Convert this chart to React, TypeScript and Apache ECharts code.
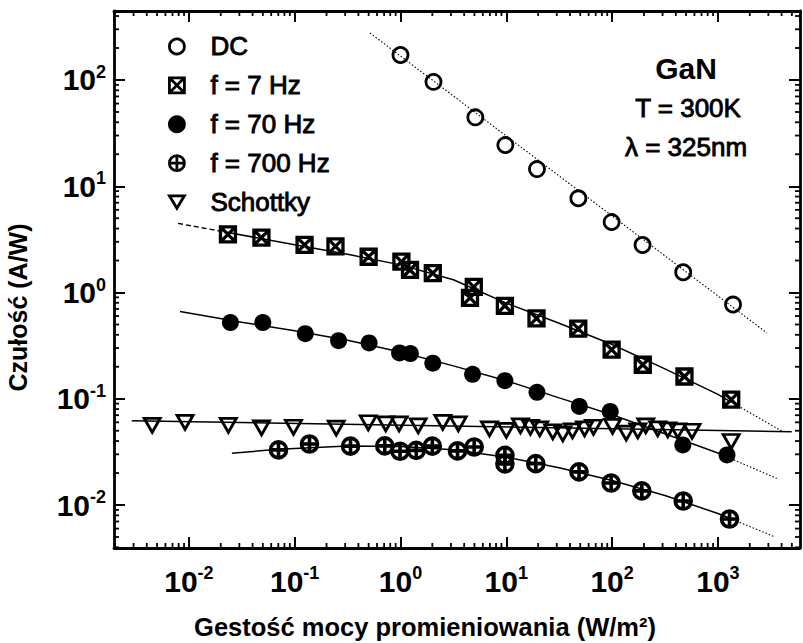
import React, { useEffect, useRef } from 'react';
import * as echarts from 'echarts';

const FONT = '"Liberation Sans", Arial, Helvetica, sans-serif';

// axis ranges (log scales)
const X_MIN = 0.00196;
const X_MAX = 5970;
const Y_MIN = 0.00394;
const Y_MAX = 446;

// minor-tick structure
const MINOR_MULT = [2, 3, 4, 5, 6, 7, 8, 9];
const DECADES = [-3, -2, -1, 0, 1, 2, 3];

// series names
const NAMES = ['DC', 'f = 7 Hz', 'f = 70 Hz', 'f = 700 Hz', 'Schottky'];

// measured points
const dcX = [1.0, 2.05, 5.1, 9.8, 19.5, 48, 99, 194, 470, 1390];
const dcY = [172, 96, 44.5, 24.4, 14.5, 7.7, 4.6, 2.8, 1.55, 0.77];

const hz7X = [0.0234, 0.0485, 0.124, 0.243, 0.5, 1.02, 1.23, 2.02, 4.93, 4.54, 9.7, 19.3, 47.9, 99, 195, 483, 1336];
const hz7Y = [3.53, 3.28, 2.81, 2.72, 2.17, 1.95, 1.63, 1.52, 1.13, 0.89, 0.75, 0.57, 0.457, 0.29, 0.209, 0.162, 0.098];

const hz70X = [0.0247, 0.05, 0.126, 0.26, 0.505, 0.98, 1.24, 2.02, 4.8, 9.7, 19.5, 49, 96, 466, 1219];
const hz70Y = [0.521, 0.521, 0.41, 0.352, 0.335, 0.27, 0.266, 0.216, 0.17, 0.148, 0.115, 0.0846, 0.076, 0.0368, 0.0296];

const hz700X = [0.0703, 0.138, 0.337, 0.71, 0.99, 1.41, 2.0, 3.46, 4.97, 9.7, 9.7, 19, 48.7, 98, 191, 470, 1288];
const hz700Y = [0.033, 0.0375, 0.0358, 0.036, 0.0321, 0.0327, 0.0358, 0.0323, 0.0352, 0.0293, 0.0244, 0.0245, 0.0205, 0.0161, 0.0136, 0.0109, 0.00738];

const schX = [0.0045, 0.0092, 0.0236, 0.0486, 0.0974, 0.247, 0.496, 0.726, 0.97, 1.47, 2.51, 3.52, 6.94, 10.0, 13.6, 16.9, 20.7, 27.5, 34.2, 42.2, 54.9, 66.7, 101, 136, 175, 208, 270, 336, 418, 569, 1336];
const schY = [0.0562, 0.06, 0.0562, 0.0533, 0.0539, 0.0529, 0.0594, 0.0581, 0.0581, 0.0556, 0.06, 0.0581, 0.0521, 0.0504, 0.0556, 0.0539, 0.0521, 0.0489, 0.0468, 0.0499, 0.0521, 0.0539, 0.055, 0.0475, 0.0499, 0.0556, 0.0521, 0.051, 0.0499, 0.0494, 0.0396];

// fitted curves
const dcFitX = [0.515, 2911];
const dcFitY = [277, 0.416];

const hz7FitStartX = [0.0079, 0.0234];
const hz7FitStartY = [4.47, 3.67];
const hz7FitX = [0.0234, 0.1, 0.316, 1, 3.16, 10, 31.6, 100, 316, 1000, 1350];
const hz7FitY = [3.67, 2.82, 2.29, 1.82, 1.32, 0.794, 0.513, 0.324, 0.191, 0.11, 0.0925];
const hz7FitEndX = [1350, 4120];
const hz7FitEndY = [0.0925, 0.049];

const hz70FitX = [0.00824, 0.0316, 0.1, 0.316, 1, 3.16, 10, 31.6, 100, 316, 1000, 1230];
const hz70FitY = [0.661, 0.525, 0.437, 0.355, 0.275, 0.204, 0.148, 0.102, 0.0708, 0.0468, 0.0309, 0.0282];
const hz70FitEndX = [1230, 3600];
const hz70FitEndY = [0.0282, 0.0178];

const hz700FitX = [0.0255, 0.0708, 0.316, 1, 3.16, 10, 31.6, 100, 316, 1000, 1300];
const hz700FitY = [0.0307, 0.0335, 0.0359, 0.0355, 0.0331, 0.0282, 0.0224, 0.017, 0.0123, 0.00832, 0.0075];
const hz700FitEndX = [1300, 3460];
const hz700FitEndY = [0.0075, 0.00501];

const schFitX = [0.00288, 4990];
const schFitY = [0.0621, 0.049];

const pairs = (xs: number[], ys: number[]) => xs.map((x, i) => [x, ys[i]]);

const SYM_SQX = 'path://M0,0L10,0L10,10L0,10Z M0,0L10,10 M10,0L0,10';
const SYM_CPLUS = 'path://M0,5A5,5,0,1,1,10,5A5,5,0,1,1,0,5Z M5,0L5,10 M0,5L10,5';
const SYM_TRI = 'path://M0,0L12,0L6,10Z';

const fmtPow = (v: number) => {
  const l = Math.log10(v);
  const e = Math.round(l);
  if (Math.abs(l - e) > 1e-6) return '';
  return '{b|10}{e|' + e + '}';
};

const rich = {
  b: { fontSize: 30, fontWeight: 'bold', fontFamily: FONT, color: '#000', lineHeight: 34 },
  e: { fontSize: 18, fontWeight: 'bold', fontFamily: FONT, color: '#000', lineHeight: 18, verticalAlign: 'top' },
};

const axisCommon = {
  type: 'log',
  logBase: 10,
  splitNumber: 6,
  axisLine: { show: true, lineStyle: { color: '#000', width: 2.8 } },
  axisTick: { show: true, inside: true, length: 11, lineStyle: { color: '#000', width: 2 } },
  splitLine: { show: false },
  minorTick: { show: false },
};

const fitLine = (xs: number[], ys: number[], type: any, width: number) => ({
  type: 'line',
  data: pairs(xs, ys),
  showSymbol: false,
  symbol: 'none',
  silent: true,
  z: 1,
  lineStyle: { color: '#000', width, type },
});

export default function App() {
  const ref = useRef<HTMLDivElement>(null);
  useEffect(() => {
    if (!ref.current) return;
    const chart = echarts.init(ref.current, null, { renderer: 'svg' });
    const option: any = {
      animation: false,
      backgroundColor: '#fff',
      grid: { left: 114, top: 11, width: 686, height: 537, containLabel: false, outerBoundsMode: 'none' },
      xAxis: [
        {
          ...axisCommon,
          min: X_MIN,
          max: X_MAX,
          position: 'bottom',
          axisLabel: { show: true, formatter: fmtPow, rich, margin: 16, showMinLabel: false, showMaxLabel: false },
          name: 'Gestość mocy promieniowania (W/m²)',
          nameLocation: 'middle',
          nameGap: 66,
          nameTextStyle: { fontSize: 25.5, lineHeight: 26, fontWeight: 'bold', fontFamily: FONT, color: '#000', padding: [0, 64, 0, 0] },
        },
        {
          ...axisCommon,
          min: X_MIN,
          max: X_MAX,
          position: 'top',
          axisLabel: { show: false },
        },
      ],
      yAxis: [
        {
          ...axisCommon,
          min: Y_MIN,
          max: Y_MAX,
          position: 'left',
          axisLabel: { show: true, formatter: fmtPow, rich, margin: 8, showMinLabel: false, showMaxLabel: false },
          name: 'Czułość (A/W)',
          nameLocation: 'middle',
          nameRotate: 90,
          nameGap: 84,
          nameTextStyle: { fontSize: 25, fontWeight: 'bold', fontFamily: FONT, color: '#000', padding: [0, 56, 0, 0] },
        },
        {
          ...axisCommon,
          min: Y_MIN,
          max: Y_MAX,
          position: 'right',
          axisLabel: { show: false },
        },
      ],
      legend: {
        orient: 'vertical',
        left: 168,
        top: 33,
        padding: 0,
        itemGap: 12,
        itemWidth: 15,
        itemHeight: 15,
        selectedMode: false,
        data: NAMES,
        itemStyle: { borderWidth: 2.8, borderColor: '#000' },
        textStyle: {
          fontSize: 26,
          lineHeight: 24,
          fontFamily: FONT,
          color: '#000',
          padding: [0, 0, 0, 21],
          textBorderColor: '#000',
          textBorderWidth: 0.9,
        },
      },
      graphic: [
        {
          type: 'text',
          x: 686,
          y: 68,
          style: { text: 'GaN', fontSize: 30, fontWeight: 'bold', fontFamily: FONT, fill: '#000', align: 'center', verticalAlign: 'middle' },
        },
        {
          type: 'text',
          x: 688,
          y: 108,
          style: { text: 'T = 300K', fontSize: 26, fontFamily: FONT, fill: '#000', stroke: '#000', lineWidth: 0.9, align: 'center', verticalAlign: 'middle' },
        },
        {
          type: 'text',
          x: 686,
          y: 147,
          style: { text: 'λ = 325nm', fontSize: 26, fontFamily: FONT, fill: '#000', stroke: '#000', lineWidth: 0.9, align: 'center', verticalAlign: 'middle' },
        },
      ],
      series: [
        fitLine(dcFitX, dcFitY, [1.5, 2], 1.1),
        fitLine(hz7FitStartX, hz7FitStartY, [5, 3], 1.4),
        fitLine(hz7FitX, hz7FitY, 'solid', 1.5),
        fitLine(hz7FitEndX, hz7FitEndY, [1.5, 2], 1.1),
        fitLine(hz70FitX, hz70FitY, 'solid', 1.5),
        fitLine(hz70FitEndX, hz70FitEndY, [1.5, 2], 1.1),
        fitLine(hz700FitX, hz700FitY, 'solid', 1.5),
        fitLine(hz700FitEndX, hz700FitEndY, [1.5, 2], 1.1),
        fitLine(schFitX, schFitY, 'solid', 1.4),
        {
          name: 'DC',
          type: 'scatter',
          data: pairs(dcX, dcY),
          symbol: 'circle',
          symbolSize: 15,
          z: 3,
          itemStyle: { color: 'rgba(255,255,255,0)', borderColor: '#000', borderWidth: 2.8, opacity: 1 },
        },
        {
          name: 'f = 7 Hz',
          type: 'scatter',
          data: pairs(hz7X, hz7Y),
          symbol: SYM_SQX,
          symbolSize: 15,
          z: 3,
          itemStyle: { color: 'rgba(255,255,255,0)', borderColor: '#000', borderWidth: 3.3, opacity: 1 },
        },
        {
          name: 'f = 70 Hz',
          type: 'scatter',
          data: pairs(hz70X, hz70Y),
          symbol: 'circle',
          symbolSize: 17,
          z: 3,
          itemStyle: { color: '#000', opacity: 1 },
        },
        {
          name: 'f = 700 Hz',
          type: 'scatter',
          data: pairs(hz700X, hz700Y),
          symbol: SYM_CPLUS,
          symbolSize: 16,
          z: 3,
          itemStyle: { color: 'rgba(255,255,255,0)', borderColor: '#000', borderWidth: 3.6, opacity: 1 },
        },
        {
          name: 'Schottky',
          type: 'scatter',
          data: pairs(schX, schY),
          symbol: SYM_TRI,
          symbolSize: [16, 14],
          z: 3,
          itemStyle: { color: 'rgba(255,255,255,0)', borderColor: '#000', borderWidth: 2.8, opacity: 1 },
        },
        {
          type: 'custom',
          silent: true,
          z: 5,
          data: [[1, 1]],
          renderItem: (params: any, api: any) => {
            const cs = params.coordSys;
            const left = cs.x;
            const right = cs.x + cs.width;
            const top = cs.y;
            const bottom = cs.y + cs.height;
            const children: any[] = [];
            const st = { stroke: '#000', lineWidth: 1.8 };
            for (const d of DECADES) {
              for (const m of MINOR_MULT) {
                const v = m * Math.pow(10, d);
                if (v > X_MIN && v < X_MAX) {
                  const px = api.coord([v, 1])[0];
                  children.push({ type: 'line', shape: { x1: px, y1: bottom, x2: px, y2: bottom - 5 }, style: st });
                  children.push({ type: 'line', shape: { x1: px, y1: top, x2: px, y2: top + 5 }, style: st });
                }
                if (v > Y_MIN && v < Y_MAX) {
                  const py = api.coord([1, v])[1];
                  children.push({ type: 'line', shape: { x1: left, y1: py, x2: left + 5, y2: py }, style: st });
                  children.push({ type: 'line', shape: { x1: right, y1: py, x2: right - 5, y2: py }, style: st });
                }
              }
            }
            return { type: 'group', children };
          },
        },
      ],
    };
    chart.setOption(option);
    return () => chart.dispose();
  }, []);
  return <div ref={ref} style={{ position: 'fixed', left: 0, top: 0, width: 803, height: 643, background: '#fff' }} />;
}
